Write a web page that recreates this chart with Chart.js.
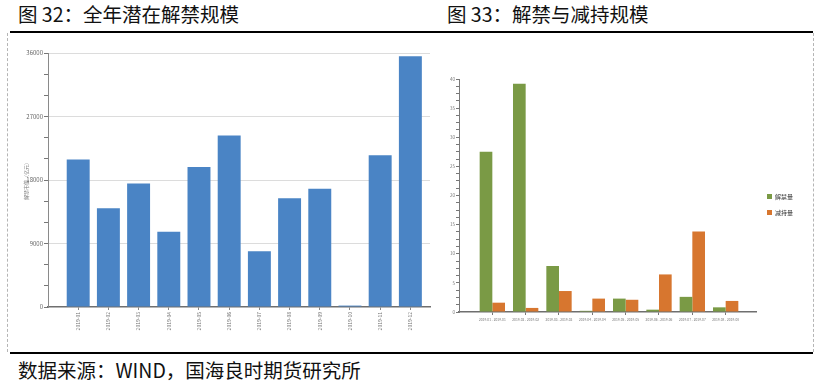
<!DOCTYPE html>
<html><head><meta charset="utf-8">
<script src="https://cdn.jsdelivr.net/npm/chart.js@4.4.1/dist/chart.umd.min.js"></script>
<style>
body{margin:0;width:823px;height:386px;background:#fff;position:relative;overflow:hidden;font-family:"Noto Sans CJK SC","Noto Sans",sans-serif;}
.t{position:absolute;font-size:19.5px;color:#111;white-space:nowrap;line-height:1;}
.rule{position:absolute;background:#000;}
.dash{position:absolute;border-left:1px dashed #b5b5b5;width:0;}
canvas{position:absolute;}
</style></head>
<body>
<div class="t" style="left:18px;top:4px;">图 32：全年潜在解禁规模</div>
<div class="t" style="left:447px;top:4px;">图 33：解禁与减持规模</div>
<div class="rule" style="left:10px;top:31px;width:803px;height:2px;"></div>
<div class="rule" style="left:10px;top:352px;width:803px;height:1.5px;"></div>
<div class="dash" style="left:7px;top:33px;height:319px;"></div>
<div class="dash" style="left:813px;top:33px;height:319px;"></div>
<div class="t" style="left:18px;top:360px;">数据来源：WIND，国海良时期货研究所</div>
<canvas id="c1" width="428" height="318" style="left:7px;top:34px;"></canvas>
<canvas id="c2" width="373" height="318" style="left:439px;top:34px;"></canvas>
<script>
// ---- Figure 32 data ----
const monthLabels = ['2019-01','2019-02','2019-03','2019-04','2019-05','2019-06','2019-07','2019-08','2019-09','2019-10','2019-11','2019-12'];
const unlockValues = [20900,14000,17500,10650,19850,24300,7900,15400,16750,200,21500,35550];
const leftYTicks = [0,9000,18000,27000,36000];

// ---- Figure 33 data ----
const periodLabels = ['2019-01 - 2019-01','2019-02 - 2019-02','2019-03 - 2019-03','2019-04 - 2019-04','2019-05 - 2019-05','2019-06 - 2019-06','2019-07 - 2019-07','2019-08 - 2019-08'];
const unlockAmount = [27.5,39.2,7.9,0.2,2.3,0.4,2.6,0.8];
const reduceAmount = [1.6,0.7,3.6,2.3,2.1,6.45,13.8,1.9];
const rightYTicks = [0,5,10,15,20,25,30,35,40];
const seriesNames = ['解禁量','减持量'];

function minorTicks(major, parts){
  const out=[];
  for(let i=0;i<major.length;i++){
    out.push({value:major[i]});
    if(i<major.length-1){
      const step=(major[i+1]-major[i])/parts;
      for(let k=1;k<parts;k++) out.push({value:major[i]+step*k});
    }
  }
  return out;
}

Chart.defaults.font.family = '"Noto Sans CJK SC","Noto Sans",sans-serif';

new Chart(document.getElementById('c1'),{
  type:'bar',
  data:{datasets:[{
    data:monthLabels.map((m,i)=>({x:i+1,y:unlockValues[i]})),
    backgroundColor:'#4a84c5',categoryPercentage:0.76,barPercentage:1
  }]},
  options:{
    responsive:false,animation:false,
    layout:{padding:{left:12,top:19,right:5,bottom:0}},
    plugins:{legend:{display:false},tooltip:{enabled:false}},
    scales:{
      x:{type:'linear',min:0,max:12.65,offset:false,
        afterBuildTicks:s=>{s.ticks=monthLabels.map((m,i)=>({value:i+1}));},
        ticks:{callback:v=>monthLabels[v-1]||'',maxRotation:90,minRotation:90,autoSkip:false,font:{size:5},color:'#777',padding:2},
        grid:{offset:false,drawOnChartArea:false,tickLength:3,tickColor:'#888'},
        border:{color:'#6f6f6f',width:1.5},
        afterFit:s=>{s.height=45;}
      },
      y:{min:0,max:36000,
        afterBuildTicks:s=>{s.ticks=minorTicks(leftYTicks,3);},
        ticks:{callback:v=>leftYTicks.includes(v)?String(v):'',autoSkip:false,font:{size:6},color:'#666',padding:1},
        grid:{color:c=>(c.tick&&c.tick.value!==0&&leftYTicks.includes(c.tick.value))?'#dcdcdc':'rgba(0,0,0,0)',tickLength:4,tickColor:'#777'},
        border:{color:'#8a8a8a',width:1},
        title:{display:true,text:'解禁市值（亿元）',font:{size:5},color:'#777',padding:{top:4,bottom:0}},
        afterFit:s=>{s.width=29;}
      }
    }
  }
});

const legendNudge = {id:'legendNudge', afterLayout(chart){
  const l = chart.legend; if(!l) return;
  l.top -= 11; l.bottom -= 11;
}};

new Chart(document.getElementById('c2'),{
  type:'bar',
  data:{datasets:[
    {label:seriesNames[0],data:periodLabels.map((p,i)=>({x:i+1,y:unlockAmount[i]})),backgroundColor:'#7a9a45',categoryPercentage:0.76,barPercentage:1},
    {label:seriesNames[1],data:periodLabels.map((p,i)=>({x:i+1,y:reduceAmount[i]})),backgroundColor:'#d7762f',categoryPercentage:0.76,barPercentage:1}
  ]},
  plugins:[legendNudge],
  options:{
    responsive:false,animation:false,
    layout:{padding:{left:0,top:45,right:9,bottom:0}},
    plugins:{
      legend:{position:'right',labels:{boxWidth:5,boxHeight:5,font:{size:6},color:'#333',padding:10}},
      tooltip:{enabled:false}
    },
    scales:{
      x:{type:'linear',min:0,max:8.94,offset:false,
        afterBuildTicks:s=>{s.ticks=periodLabels.map((p,i)=>({value:i+1}));},
        ticks:{callback:v=>periodLabels[v-1]||'',maxRotation:0,minRotation:0,autoSkip:false,font:{size:3.3},color:'#777',padding:3},
        grid:{offset:false,drawOnChartArea:false,tickLength:3,tickColor:'#777'},
        border:{color:'#6f6f6f',width:1.5},
        afterFit:s=>{s.height=40;}
      },
      y:{min:0,max:40,
        afterBuildTicks:s=>{s.ticks=minorTicks(rightYTicks,4);},
        ticks:{callback:v=>rightYTicks.includes(v)?String(v):'',autoSkip:false,font:{size:4.5},color:'#777',padding:1},
        grid:{drawOnChartArea:false,tickLength:3,tickColor:'#777'},
        border:{color:'#7a7a7a',width:1},
        afterFit:s=>{s.width=20;}
      }
    }
  }
});
</script>
</body></html>
